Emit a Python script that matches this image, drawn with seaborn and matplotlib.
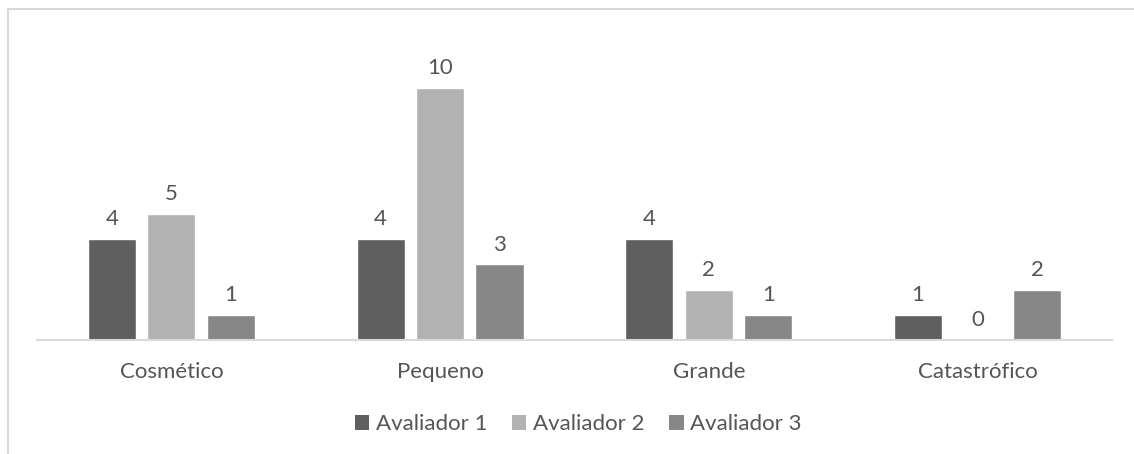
import matplotlib
matplotlib.use("Agg")
import matplotlib.pyplot as plt
from matplotlib.patches import Rectangle, Patch
import pandas as pd
import seaborn as sns

categories = ["Cosmético", "Pequeno", "Grande", "Catastrófico"]
avaliador_1 = [4, 4, 4, 1]
avaliador_2 = [5, 10, 2, 0]
avaliador_3 = [1, 3, 1, 2]
series_names = ["Avaliador 1", "Avaliador 2", "Avaliador 3"]
colors = ["#5f5f5f", "#b2b2b2", "#878787"]

rows = []
for name, vals in zip(series_names, [avaliador_1, avaliador_2, avaliador_3]):
    for cat, v in zip(categories, vals):
        rows.append({"categoria": cat, "avaliador": name, "valor": v})
df = pd.DataFrame(rows)

sns.set_theme(style="white")
plt.rcParams["font.family"] = ["Lato", "DejaVu Sans"]
text_color = "#555555"
fs = 16

fig = plt.figure(figsize=(11.34, 4.54), dpi=100)
ax = fig.add_axes([0.0326, 0.2511, 0.9480, 0.6661])

sns.barplot(data=df, x="categoria", y="valor", hue="avaliador",
            order=categories, hue_order=series_names, palette=colors,
            width=0.664, gap=0.19, saturation=1, legend=False, ax=ax)

ax.set_ylim(0, 12)
ax.set_xlim(-0.5, len(categories) - 0.5)
for s in ["top", "right", "left"]:
    ax.spines[s].set_visible(False)
ax.spines["bottom"].set_color("#d9d9d9")
ax.spines["bottom"].set_linewidth(1.5)
ax.set_yticks([])
ax.set_xlabel("")
ax.set_ylabel("")
ax.tick_params(axis="x", length=0, pad=16, labelsize=fs, labelcolor=text_color)

for container in ax.containers:
    ax.bar_label(container, fmt="%g", padding=7, fontsize=fs, color=text_color)

handles = [Patch(facecolor=c, edgecolor="none") for c in colors]
fig.legend(handles, series_names, loc="center", bbox_to_anchor=(0.51, 0.066),
           ncol=3, frameon=False, fontsize=fs, labelcolor=text_color,
           handlelength=0.65, handleheight=0.65, handletextpad=0.3,
           columnspacing=1.1)

fig.patches.append(Rectangle((7.5 / 1134, -0.1), 1.2, 1.1 - 8.5 / 454,
                             transform=fig.transFigure, fill=False,
                             edgecolor="#d9d9d9", linewidth=1.5))

fig.savefig("out.png", dpi=100, facecolor="white")
